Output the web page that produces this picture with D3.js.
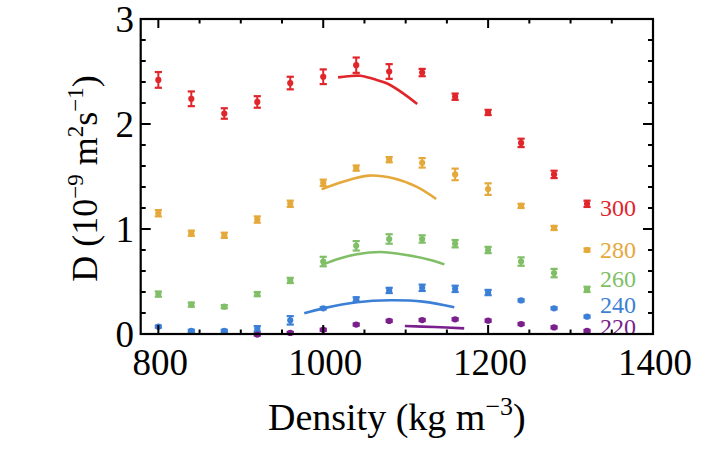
<!DOCTYPE html>
<html><head><meta charset="utf-8">
<script src="https://cdn.jsdelivr.net/npm/d3@7/dist/d3.min.js"></script>
<style>body{margin:0;background:#fff}</style>
</head><body>
<script>
// ---- data ----
const densities = [800,840,880,920,960,1000,1040,1080,1120,1160,1200,1240,1280,1320];
const temps = ["300","280","260","240","220"];
const d300 = [2.42,2.24,2.10,2.21,2.39,2.45,2.56,2.50,2.49,2.26,2.11,1.82,1.52,1.24];
const e300 = [0.075,0.07,0.05,0.055,0.06,0.07,0.073,0.07,0.035,0.03,0.025,0.04,0.035,0.03];
const d280 = [1.15,0.96,0.94,1.09,1.24,1.44,1.58,1.66,1.63,1.52,1.38,1.22,1.01,0.80];
const e280 = [0.03,0.025,0.025,0.03,0.03,0.03,0.025,0.025,0.045,0.055,0.055,0.02,0.02,0.015];
const d260 = [0.38,0.28,0.26,0.38,0.51,0.69,0.84,0.905,0.905,0.86,0.80,0.69,0.58,0.425];
const e260 = [0.025,0.02,0.015,0.02,0.025,0.045,0.045,0.045,0.035,0.035,0.03,0.04,0.04,0.025];
const d240 = [0.07,0.03,0.03,0.05,0.13,0.245,0.33,0.415,0.44,0.43,0.395,0.32,0.245,0.165];
const e240 = [0.01,0.01,0.01,0.025,0.04,0.01,0.02,0.025,0.03,0.03,0.025,0.01,0.01,0.01];
const d220 = [null,null,null,-0.005,0.01,0.04,0.09,0.125,0.133,0.14,0.127,0.095,0.063,0.029];
const e220 = [0,0,0,0.01,0.01,0.01,0.01,0.01,0.01,0.01,0.01,0.01,0.01,0.01];
// fitted curves
const fit300X = [1018,1030,1045,1061,1077,1097,1114];
const fit300Y = [2.444,2.455,2.46,2.428,2.388,2.292,2.19];
const fit280X = [998,1024,1055,1085,1113,1137];
const fit280Y = [1.378,1.45,1.508,1.483,1.403,1.286];
const fit260X = [998,1020,1041,1069,1101,1130,1147];
const fit260Y = [0.657,0.72,0.759,0.781,0.752,0.705,0.663];
const fit240X = [977,1000,1041,1081,1121,1159];
const fit240Y = [0.197,0.244,0.302,0.321,0.308,0.254];
const fit220X = [1099,1135,1171];
const fit220Y = [0.076,0.066,0.054];
// legend label anchor values
const labelValues = [1.12,0.72,0.45,0.197,-0.01];
const xMajor = [800,1000,1200,1400];
const yMajor = [0,1,2,3];

const colors = ["#e0262b","#e5a83a","#80bf67","#3b7fd6","#7a1f8c"];
const series = [
  {v:d300,e:e300,fx:fit300X,fy:fit300Y},
  {v:d280,e:e280,fx:fit280X,fy:fit280Y},
  {v:d260,e:e260,fx:fit260X,fy:fit260Y},
  {v:d240,e:e240,fx:fit240X,fy:fit240Y},
  {v:d220,e:e220,fx:fit220X,fy:fit220Y}
];

const W=706,H=459;
const L=140.7,R=653,T=19,B=334;
const x = d3.scaleLinear().domain([778.6,1400]).range([L,R]);
const y = d3.scaleLinear().domain([0,3]).range([B,T]);
const font = "'Liberation Serif','Times New Roman',serif";

const svg = d3.select("body").append("svg").attr("width",W).attr("height",H)
  .style("font-family",font);

svg.append("defs").append("clipPath").attr("id","clip")
  .append("rect").attr("x",L).attr("y",T).attr("width",R-L).attr("height",B-T);

const plot = svg.append("g");
const labels = svg.append("g").attr("clip-path","url(#clip)");

series.forEach((s,i)=>{
  const c = colors[i];
  const g = plot.append("g");
  const pts = s.fx.map((d,j)=>[d,s.fy[j]]);
  g.append("path").datum(pts)
    .attr("d", d3.line().x(d=>x(d[0])).y(d=>y(d[1])).curve(d3.curveCatmullRom))
    .attr("fill","none").attr("stroke",c).attr("stroke-width",2.6);
  densities.forEach((dx,j)=>{
    const v = s.v[j]; if (v===null) return;
    const e = s.e[j];
    const px = x(dx), py = y(v), y1 = y(v-e), y2 = y(v+e);
    if (e>0){
      g.append("line").attr("x1",px).attr("x2",px).attr("y1",y1).attr("y2",y2)
        .attr("stroke",c).attr("stroke-width",2);
      [y1,y2].forEach(yy=>g.append("line").attr("x1",px-3.6).attr("x2",px+3.6)
        .attr("y1",yy).attr("y2",yy).attr("stroke",c).attr("stroke-width",2.2));
    }
    g.append("circle").attr("cx",px).attr("cy",py).attr("r",3.1).attr("fill",c);
  });
  labels.append("text").attr("x",x(1320)+13).attr("y",y(labelValues[i]))
    .attr("fill",c).attr("font-size",24).text(temps[i]);
});

// ticks
const axes = svg.append("g").attr("stroke","#000").attr("stroke-width",2);
function ticks(vals, len, side){
  vals.forEach(v=>{
    if (side==="b") axes.append("line").attr("x1",x(v)).attr("x2",x(v)).attr("y1",B).attr("y2",B-len);
    if (side==="t") axes.append("line").attr("x1",x(v)).attr("x2",x(v)).attr("y1",T).attr("y2",T+len);
    if (side==="l") axes.append("line").attr("y1",y(v)).attr("y2",y(v)).attr("x1",L).attr("x2",L+len);
    if (side==="r") axes.append("line").attr("y1",y(v)).attr("y2",y(v)).attr("x1",R).attr("x2",R-len);
  });
}
const xMinor = d3.range(800,1401,50).filter(v=>!xMajor.includes(v));
const yMinor = d3.range(0,3.01,0.2).map(v=>+v.toFixed(1)).filter(v=>!yMajor.includes(v));
ticks(xMajor,9,"b"); ticks(xMajor,9,"t"); ticks(xMinor,4.5,"b"); ticks(xMinor,4.5,"t");
ticks(yMajor,10,"l"); ticks(yMajor,10,"r"); ticks(yMinor,5,"l"); ticks(yMinor,5,"r");

svg.append("rect").attr("x",L).attr("y",T).attr("width",R-L).attr("height",B-T)
  .attr("fill","none").attr("stroke","#000").attr("stroke-width",2.2);

// tick labels
xMajor.forEach(v=>svg.append("text").attr("x",x(v)+2).attr("y",375)
  .attr("text-anchor","middle").attr("font-size",37).text(v));
yMajor.forEach(v=>svg.append("text").attr("x",134).attr("y",y(v)+13)
  .attr("text-anchor","end").attr("font-size",37).text(v));

// axis titles
const xl = svg.append("text").attr("x",(L+R)/2).attr("y",430)
  .attr("text-anchor","middle").attr("font-size",38);
xl.append("tspan").text("Density (kg m");
xl.append("tspan").attr("font-size",26).attr("dy",-15).text("−3");
xl.append("tspan").attr("dy",15).text(")");

const yl = svg.append("text").attr("transform",`translate(97,${(T+B)/2+2}) rotate(-90)`)
  .attr("text-anchor","middle").attr("font-size",36);
yl.append("tspan").text("D (10");
yl.append("tspan").attr("font-size",23).attr("dy",-14).text("−9");
yl.append("tspan").attr("dy",14).text(" m");
yl.append("tspan").attr("font-size",23).attr("dy",-14).text("2");
yl.append("tspan").attr("dy",14).text("s");
yl.append("tspan").attr("font-size",23).attr("dy",-14).text("−1");
yl.append("tspan").attr("dy",14).text(")");
</script>
</body></html>
